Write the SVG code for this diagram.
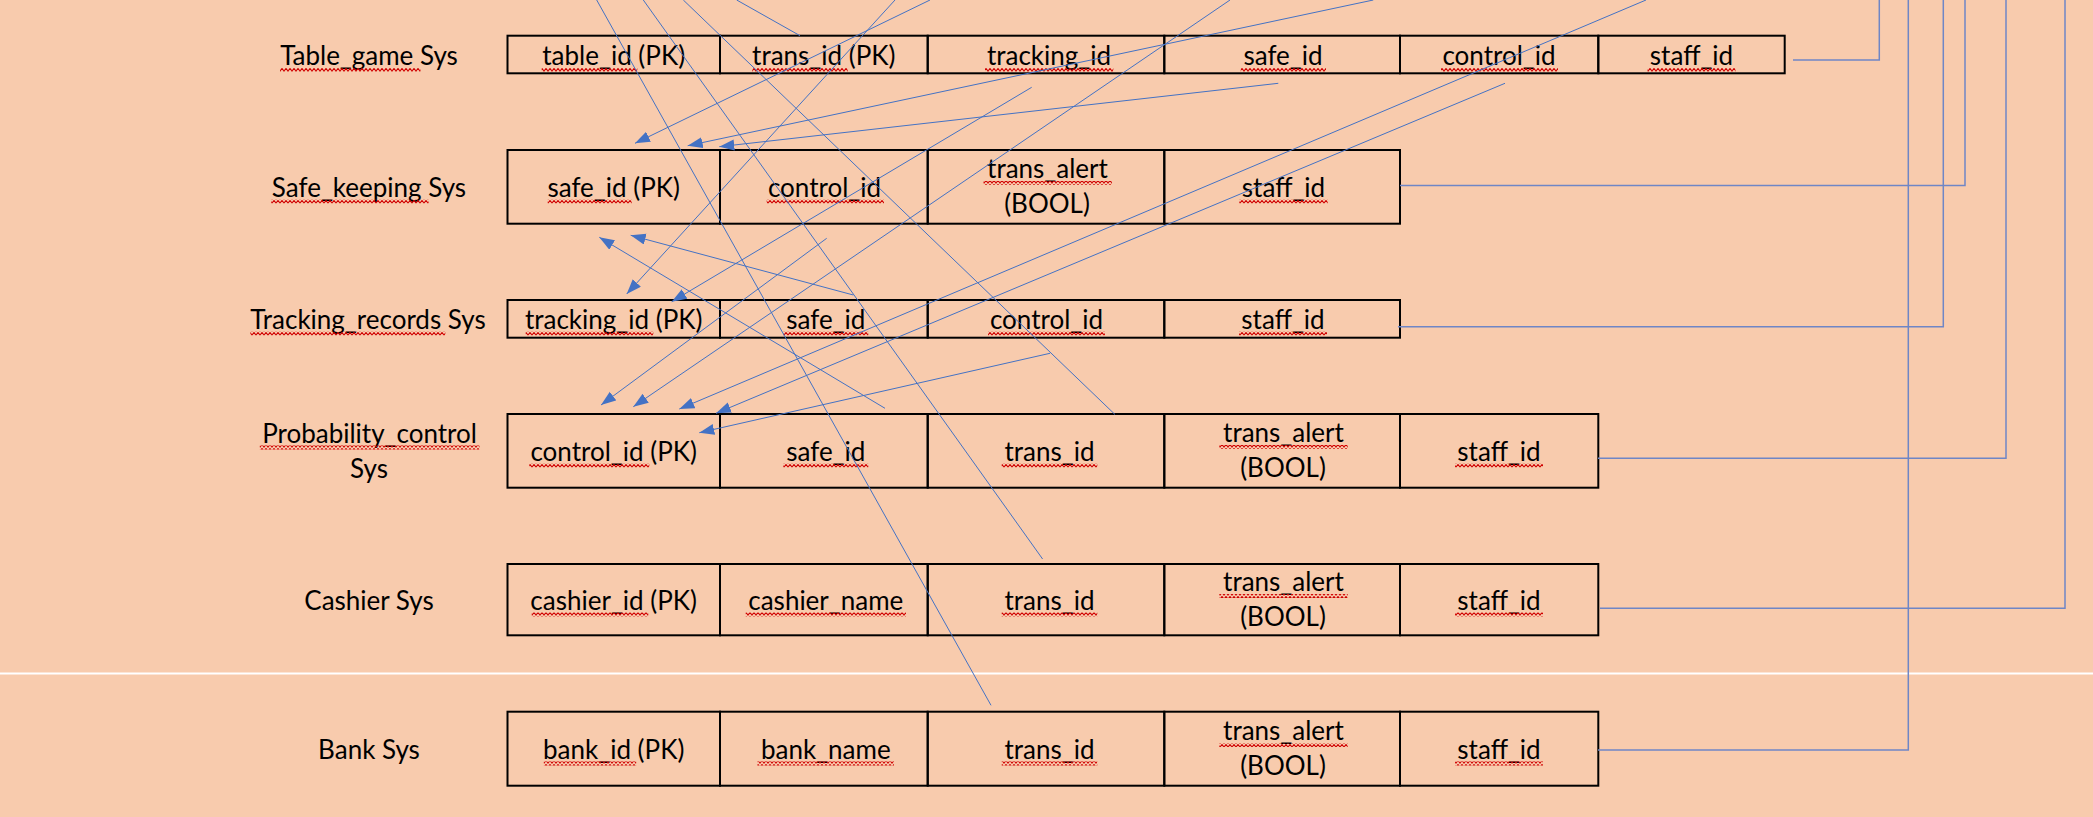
<svg xmlns="http://www.w3.org/2000/svg" width="2093" height="817" viewBox="0 0 2093 817">
<style>
  text { font-family: Lato, "Liberation Sans", sans-serif; font-size: 26px; fill: #000; text-anchor: middle; }
  .cell { fill: none; stroke: #000; stroke-width: 2; }
  .conn { fill: none; stroke: #4472C4; stroke-width: 1; }
  .elb { fill: none; stroke: #6F86C6; stroke-width: 1.5; }
  .sq { fill: url(#wave); }
</style>
<defs>
  <marker id="arr" markerUnits="userSpaceOnUse" markerWidth="16" markerHeight="12" refX="15" refY="5.5" orient="auto">
    <path d="M0,0 L15,5.5 L0,11 z" fill="#4472C4"/>
  </marker>
  <pattern id="wave" patternUnits="userSpaceOnUse" x="0" y="0" width="4" height="4">
    <path d="M-0.5,3.7 L2,0.5 L4.5,3.7" fill="none" stroke="#D00000" stroke-width="1.1"/>
  </pattern>
</defs>
<rect x="0" y="0" width="2093" height="817" fill="#F8CBAD"/>
<line x1="0" y1="673.5" x2="2093" y2="673.5" stroke="#FFFFFF" stroke-width="1.8"/>

<g id="table_game">
  <rect class="cell" x="507.5" y="35.7" width="212.5" height="37.6"/>
  <rect class="cell" x="720" y="35.7" width="207.7" height="37.6"/>
  <rect class="cell" x="927.7" y="35.7" width="236.6" height="37.6"/>
  <rect class="cell" x="1164.3" y="35.7" width="235.7" height="37.6"/>
  <rect class="cell" x="1400" y="35.7" width="198.3" height="37.6"/>
  <rect class="cell" x="1598.3" y="35.7" width="186.4" height="37.6"/>
  <text x="369" y="65">Table_game Sys</text>
  <text x="613.7" y="65">table_id (PK)</text>
  <text x="823.8" y="65">trans_id (PK)</text>
  <text x="1049" y="65">tracking_id</text>
  <text x="1283" y="65">safe_id</text>
  <text x="1499" y="65">control_id</text>
  <text x="1691.5" y="65">staff_id</text>
  <rect class="sq" x="280" y="68" width="140.5" height="4"/>
  <rect class="sq" x="541.7" y="68" width="95.6" height="4"/>
  <rect class="sq" x="752.3" y="68" width="95.4" height="4"/>
  <rect class="sq" x="985" y="68" width="128.3" height="4"/>
  <rect class="sq" x="1240.7" y="68" width="85.3" height="4"/>
  <rect class="sq" x="1441" y="68" width="117" height="4"/>
  <rect class="sq" x="1647.5" y="68" width="88" height="4"/>
</g>

<g id="safe_keeping">
  <rect class="cell" x="507.5" y="150" width="212.5" height="73.7"/>
  <rect class="cell" x="720" y="150" width="207.7" height="73.7"/>
  <rect class="cell" x="927.7" y="150" width="236.6" height="73.7"/>
  <rect class="cell" x="1164.3" y="150" width="235.7" height="73.7"/>
  <text x="369" y="196.5">Safe_keeping Sys</text>
  <text x="613.7" y="196.5">safe_id (PK)</text>
  <text x="824.5" y="196.5">control_id</text>
  <text x="1047.5" y="178">trans_alert</text>
  <text x="1047" y="213">(BOOL)</text>
  <text x="1283.5" y="196.5">staff_id</text>
  <rect class="sq" x="271.2" y="199.5" width="157.4" height="4"/>
  <rect class="sq" x="547.7" y="199.5" width="84" height="4"/>
  <rect class="sq" x="766.7" y="199.5" width="117.3" height="4"/>
  <rect class="sq" x="983.5" y="181" width="128.4" height="4"/>
  <rect class="sq" x="1239.3" y="199.5" width="88.4" height="4"/>
</g>

<g id="tracking_records">
  <rect class="cell" x="507.5" y="300" width="212.5" height="37.7"/>
  <rect class="cell" x="720" y="300" width="207.7" height="37.7"/>
  <rect class="cell" x="927.7" y="300" width="236.6" height="37.7"/>
  <rect class="cell" x="1164.3" y="300" width="235.7" height="37.7"/>
  <text x="368" y="328.5">Tracking_records Sys</text>
  <text x="613.7" y="328.5">tracking_id (PK)</text>
  <text x="825.8" y="328.5">safe_id</text>
  <text x="1046.5" y="328.5">control_id</text>
  <text x="1283" y="328.5">staff_id</text>
  <rect class="sq" x="250.4" y="331.5" width="194.9" height="4"/>
  <rect class="sq" x="525.7" y="331.5" width="127.6" height="4"/>
  <rect class="sq" x="783.3" y="331.5" width="85" height="4"/>
  <rect class="sq" x="988" y="331.5" width="117" height="4"/>
  <rect class="sq" x="1239" y="331.5" width="88" height="4"/>
</g>

<g id="probability_control">
  <rect class="cell" x="507.5" y="414" width="212.5" height="73.7"/>
  <rect class="cell" x="720" y="414" width="207.7" height="73.7"/>
  <rect class="cell" x="927.7" y="414" width="236.6" height="73.7"/>
  <rect class="cell" x="1164.3" y="414" width="235.7" height="73.7"/>
  <rect class="cell" x="1400" y="414" width="198.3" height="73.7"/>
  <text x="369.5" y="442.5">Probability_control</text>
  <text x="369" y="477.5">Sys</text>
  <text x="613.7" y="460.5">control_id (PK)</text>
  <text x="825.8" y="460.5">safe_id</text>
  <text x="1049.5" y="460.5">trans_id</text>
  <text x="1283.5" y="442">trans_alert</text>
  <text x="1283" y="477">(BOOL)</text>
  <text x="1499" y="460.5">staff_id</text>
  <rect class="sq" x="259.8" y="445.5" width="219.7" height="4"/>
  <rect class="sq" x="529.3" y="463.5" width="120" height="4"/>
  <rect class="sq" x="783.3" y="463.5" width="85" height="4"/>
  <rect class="sq" x="1001.7" y="463.5" width="95.6" height="4"/>
  <rect class="sq" x="1219.3" y="445" width="128.4" height="4"/>
  <rect class="sq" x="1455" y="463.5" width="88" height="4"/>
</g>

<g id="cashier">
  <rect class="cell" x="507.5" y="564" width="212.5" height="71.3"/>
  <rect class="cell" x="720" y="564" width="207.7" height="71.3"/>
  <rect class="cell" x="927.7" y="564" width="236.6" height="71.3"/>
  <rect class="cell" x="1164.3" y="564" width="235.7" height="71.3"/>
  <rect class="cell" x="1400" y="564" width="198.3" height="71.3"/>
  <text x="369" y="609.5">Cashier Sys</text>
  <text x="613.7" y="609.5">cashier_id (PK)</text>
  <text x="825.8" y="609.5">cashier_name</text>
  <text x="1049.5" y="609.5">trans_id</text>
  <text x="1283.5" y="591">trans_alert</text>
  <text x="1283" y="626">(BOOL)</text>
  <text x="1499" y="609.5">staff_id</text>
  <rect class="sq" x="531.7" y="612.5" width="116.6" height="4"/>
  <rect class="sq" x="745.7" y="612.5" width="160.3" height="4"/>
  <rect class="sq" x="1001.7" y="612.5" width="95.6" height="4"/>
  <rect class="sq" x="1219.3" y="594" width="128.4" height="4"/>
  <rect class="sq" x="1455" y="612.5" width="88" height="4"/>
</g>

<g id="bank">
  <rect class="cell" x="507.5" y="711.7" width="212.5" height="74"/>
  <rect class="cell" x="720" y="711.7" width="207.7" height="74"/>
  <rect class="cell" x="927.7" y="711.7" width="236.6" height="74"/>
  <rect class="cell" x="1164.3" y="711.7" width="235.7" height="74"/>
  <rect class="cell" x="1400" y="711.7" width="198.3" height="74"/>
  <text x="369" y="758.5">Bank Sys</text>
  <text x="613.7" y="758.5">bank_id (PK)</text>
  <text x="825.8" y="758.5">bank_name</text>
  <text x="1049.5" y="758.5">trans_id</text>
  <text x="1283.5" y="740">trans_alert</text>
  <text x="1283" y="775">(BOOL)</text>
  <text x="1499" y="758.5">staff_id</text>
  <rect class="sq" x="543.8" y="761.5" width="92.4" height="4"/>
  <rect class="sq" x="757.4" y="761.5" width="136.6" height="4"/>
  <rect class="sq" x="1001.7" y="761.5" width="95.6" height="4"/>
  <rect class="sq" x="1219.3" y="743" width="128.4" height="4"/>
  <rect class="sq" x="1455" y="761.5" width="88" height="4"/>
</g>

<g id="connectors">
  <path class="conn" d="M596.7,0 L991,705.3"/>
  <path class="conn" d="M643.3,0 L1042.6,559"/>
  <path class="conn" d="M683.3,0 L1115,414.5"/>
  <path class="conn" d="M736.7,0 L800,35.7"/>
  <path class="conn" marker-end="url(#arr)" d="M895,0 L626.7,294"/>
  <path class="conn" marker-end="url(#arr)" d="M930,0 L635,143.3"/>
  <path class="conn" marker-end="url(#arr)" d="M1373.3,0 L687.7,145.7"/>
  <path class="conn" marker-end="url(#arr)" d="M1278.3,83.3 L719.3,146.7"/>
  <path class="conn" marker-end="url(#arr)" d="M1031.7,87.3 L671.7,301.7"/>
  <path class="conn" marker-end="url(#arr)" d="M1230,0 L633.3,406.7"/>
  <path class="conn" marker-end="url(#arr)" d="M1646,0 L679.3,409"/>
  <path class="conn" marker-end="url(#arr)" d="M1505,83.3 L716,413.3"/>
  <path class="conn" marker-end="url(#arr)" d="M1050,353.3 L699.3,432.7"/>
  <path class="conn" marker-end="url(#arr)" d="M826.7,238.3 L601,405"/>
  <path class="conn" marker-end="url(#arr)" d="M885,408.3 L599.3,237.3"/>
  <path class="conn" marker-end="url(#arr)" d="M853.3,295 L630.7,235.3"/>
  <path class="elb" d="M1793,60 H1879.3 V0"/>
  <path class="elb" d="M1400,185.5 H1965 V0"/>
  <path class="elb" d="M1398,326.7 H1943.3 V0"/>
  <path class="elb" d="M1598,458.3 H2006 V0"/>
  <path class="elb" d="M1600,608.3 H2065 V0"/>
  <path class="elb" d="M1598,750 H1908.3 V0"/>
</g>
</svg>
